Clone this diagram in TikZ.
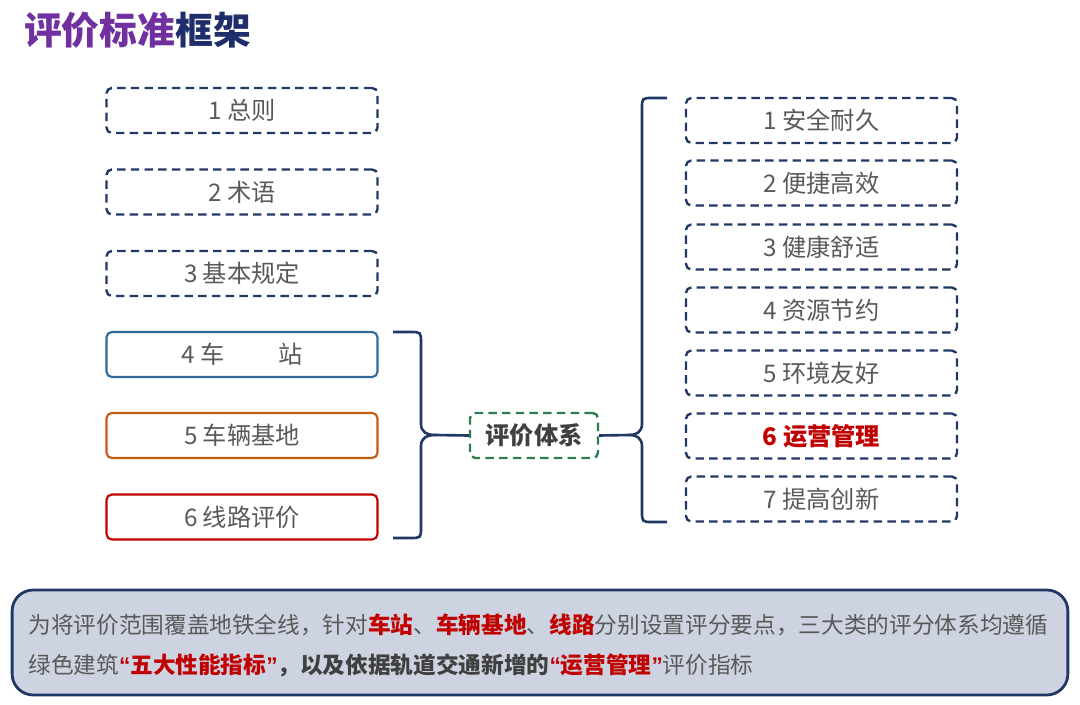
\documentclass[tikz,border=0pt]{standalone}
\usepackage{fontspec}
\setmainfont{Noto Sans CJK SC}
\newfontfamily\quotefont{Liberation Sans}
\usetikzlibrary{positioning}
\definecolor{navy}{HTML}{203864}
\definecolor{titlepurple}{HTML}{7030A0}
\definecolor{titlenavy}{HTML}{1F2D6B}
\definecolor{txtgray}{HTML}{595959}
\definecolor{darkgray}{HTML}{404040}
\definecolor{stationblue}{HTML}{2F6A9A}
\definecolor{depotorange}{HTML}{C55A11}
\definecolor{linered}{HTML}{C00000}
\definecolor{sysgreen}{HTML}{2E7D4E}
\definecolor{notefill}{HTML}{CDD3E0}
\newcommand{\boxfont}{\fontsize{13.8}{16}\selectfont}
\newcommand{\notefont}{\fontsize{12.9}{22.7}\selectfont}
\newcommand{\hl}[1]{\textbf{\color{linered}#1}}
\newcommand{\dk}[1]{\textbf{\color{darkgray}#1}}
\newcommand{\openq}{{\quotefont\bfseries\color{linered}“}}
\newcommand{\closeq}{{\quotefont\bfseries\color{linered}”}}
\tikzset{
	framebox/.style={draw=navy, line width=1.2pt, rounded corners=3pt,
		minimum width=5.42cm, minimum height=0.9cm, text=txtgray, font=\boxfont},
	dashbox/.style={framebox, line width=1.35pt, dash pattern=on 4.8pt off 3pt},
	brace/.style={draw=navy, line width=1.5pt}
}
\begin{document}
\begin{tikzpicture}[x=0.02cm,y=-0.02cm]
	\useasboundingbox (0,0) rectangle (1080,705);
	% Title
	\node[anchor=west, font=\fontsize{21.5}{24}\selectfont\bfseries] (title) at (18,30)
	{\color{titlepurple}评价标准\color{titlenavy}框架};
	% Left boxes
	\node[dashbox] (gen1) at (242,110.5) {1 总则};
	\node[dashbox] (gen2) at (242,192) {2 术语};
	\node[dashbox] (gen3) at (242,273.5) {3 基本规定};
	\node[framebox, draw=stationblue] (station) at (242,354.5) {4 车\hspace{2.2em}站};
	\node[framebox, draw=depotorange] (depot) at (242,435.5) {5 车辆基地};
	\node[framebox, draw=linered] (route) at (242,517) {6 线路评价};
	% Centre node
	\node[dashbox, draw=sysgreen, minimum width=2.56cm, text=darkgray, font=\boxfont\bfseries] (sys) at (534,435.5) {评价体系};
	% Right boxes
	\node[dashbox] (perf1) at (821.5,120.5) {1 安全耐久};
	\node[dashbox] (perf2) at (821.5,183) {2 便捷高效};
	\node[dashbox] (perf3) at (821.5,247) {3 健康舒适};
	\node[dashbox] (perf4) at (821.5,310) {4 资源节约};
	\node[dashbox] (perf5) at (821.5,373) {5 环境友好};
	\node[dashbox, text=linered, font=\boxfont\bfseries] (perf6) at (821.5,436) {6 运营管理};
	\node[dashbox] (perf7) at (821.5,499) {7 提高创新};
	% Left brace
	\coordinate (ltip) at (434,435);
	\draw[brace] (393,332) -- (410,332) .. controls (421,332) .. (421,343) -- (421,424)
	.. controls (421,432) and (427,435) .. (ltip)
	.. controls (427,435) and (421,438) .. (421,446) -- (421,527)
	.. controls (421,538) .. (410,538) -- (393,538);
	\draw[brace] (ltip) -- (sys.west);
	% Right brace
	\coordinate (rtip) at (630,435);
	\draw[brace] (667,98) -- (653,98) .. controls (642,98) .. (642,109) -- (642,424)
	.. controls (642,432) and (636,435) .. (rtip)
	.. controls (636,435) and (642,438) .. (642,446) -- (642,511)
	.. controls (642,522) .. (653,522) -- (667,522);
	\draw[brace] (sys.east) -- (rtip);
	% Note at the bottom
	\node[draw=navy, fill=notefill, line width=1.6pt, rounded corners=12pt,
	minimum width=21.12cm, minimum height=2.1cm] (notebox) at (540,642.5) {};
	\node[anchor=west, align=left, text=txtgray, font=\notefont, inner sep=0pt] (note) at (28,645)
	{为将评价范围覆盖地铁全线，针对\hl{车站}、\hl{车辆基地}、\hl{线路}分别设置评分要点，三大类的评分体系均遵循\\
	绿色建筑\openq\hl{五大性能指标}\closeq\dk{，以及依据轨道交通新增的}\openq\hl{运营管理}\closeq 评价指标};
\end{tikzpicture}
\end{document}
